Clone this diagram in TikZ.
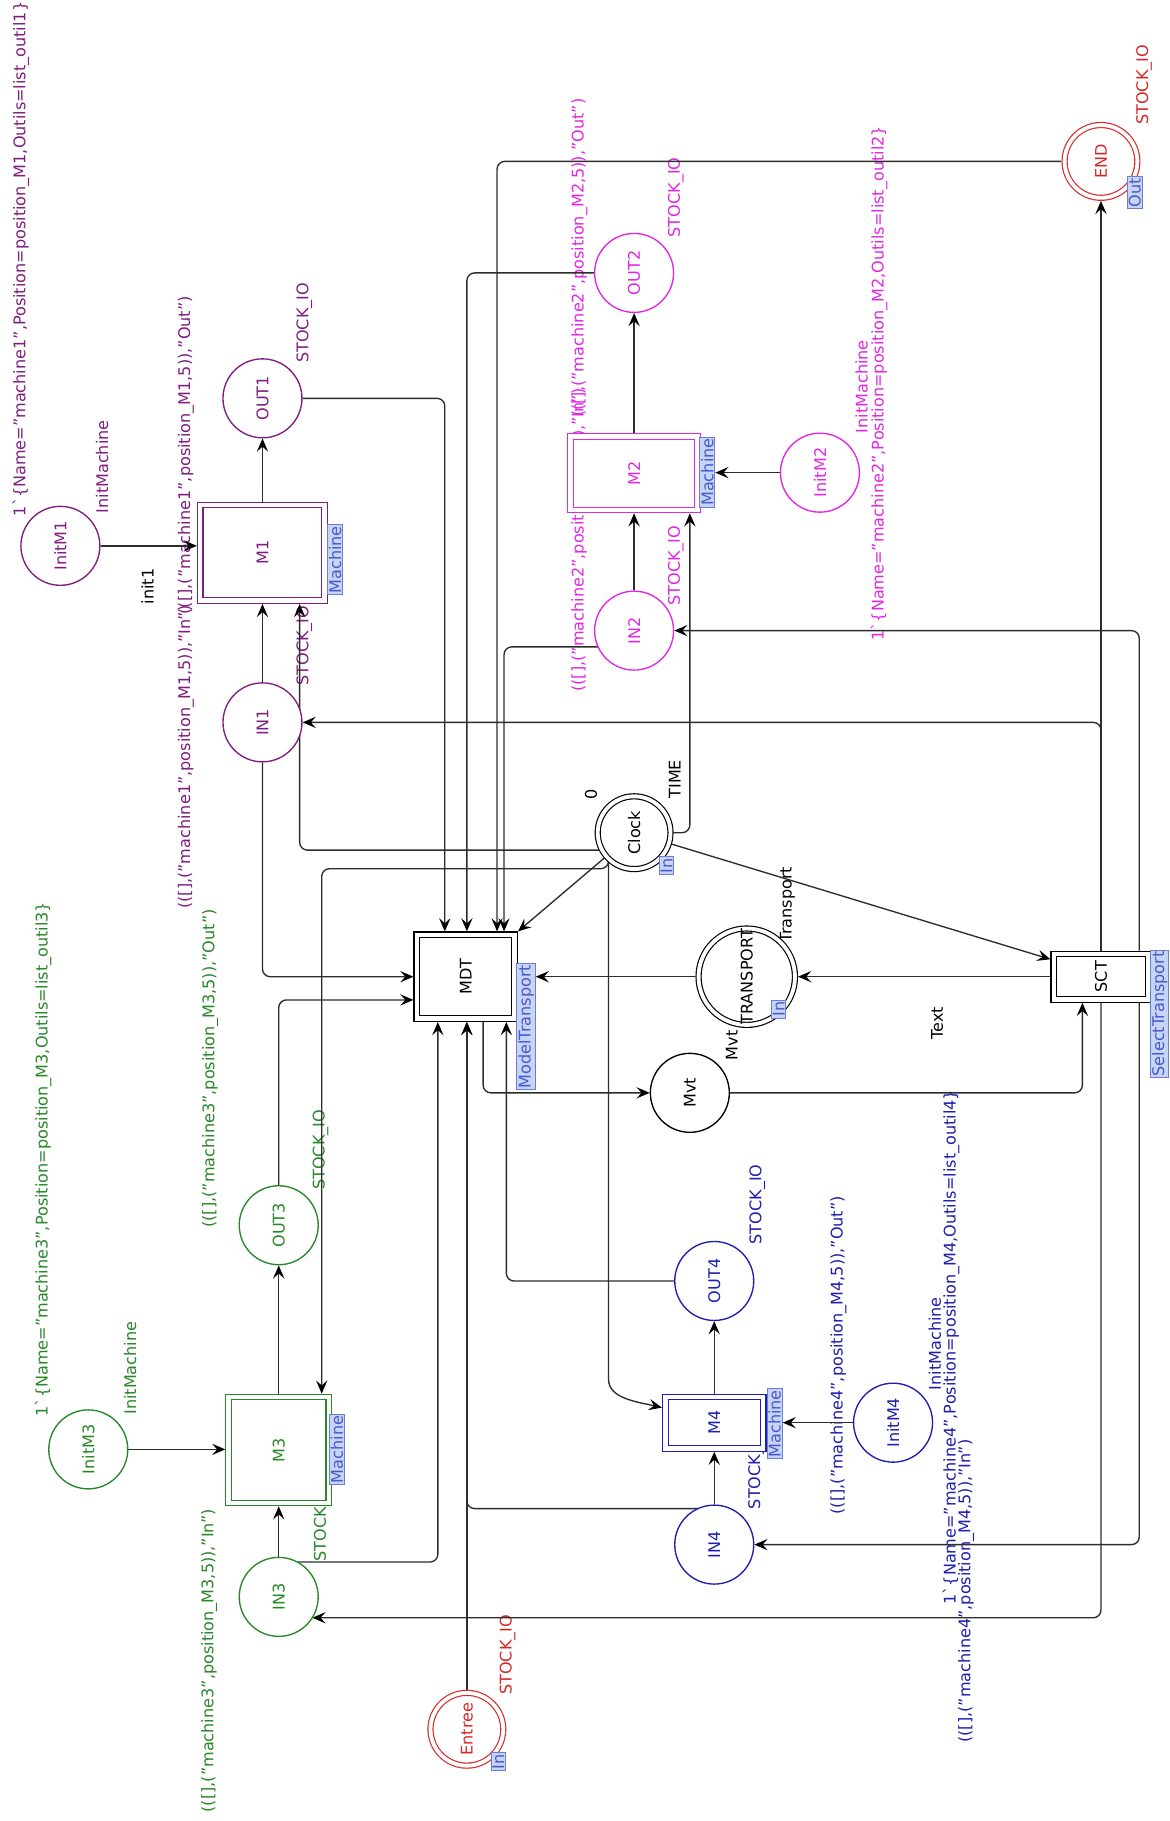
\documentclass[tikz,border=0pt]{standalone}
\usepackage{fontspec}
\setmainfont{DejaVu Sans}
\usetikzlibrary{arrows.meta,calc}
\definecolor{cpurple}{RGB}{128,30,128}
\definecolor{cmag}{RGB}{225,40,225}
\definecolor{cgreen}{RGB}{40,135,40}
\definecolor{cblue}{RGB}{30,30,175}
\definecolor{cred}{RGB}{215,40,40}
\definecolor{tagfill}{RGB}{200,212,245}
\definecolor{tagdraw}{RGB}{105,125,215}
\definecolor{tagtext}{RGB}{70,90,205}
\definecolor{arccol}{RGB}{45,45,45}
\newcommand{\fsz}{\fontsize{8.3}{10}\selectfont}
\newcommand{\rtx}[1]{\rotatebox{90}{#1}}
\pgfdeclarelayer{back}
\pgfdeclarelayer{bg}
\pgfsetlayers{back,bg,main}
\tikzset{
  cpnlbl/.style={rotate=90, inner sep=0pt, font=\fsz},
  cpnplace/.style={circle, draw=#1, text=#1, line width=0.7pt, minimum size=40.8pt, inner sep=0pt, fill=white, font=\fsz},
  cpndplace/.style={circle, draw=#1, text=#1, line width=0.6pt, double=white, double distance=2pt, minimum size=37.6pt, inner sep=0pt, outer sep=1.6pt, fill=white, font=\fsz},
  cpntrans/.style={rectangle, draw=#1, text=#1, line width=0.6pt, double=white, double distance=2.3pt, outer sep=1.75pt, inner sep=0pt, fill=white, font=\fsz},
  cpntag/.style={rectangle, draw=tagdraw, fill=tagfill, text=tagtext, line width=0.5pt, inner sep=0.7pt, font=\fsz},
  cpnarc/.style={draw=arccol, line width=0.7pt, rounded corners=4pt, -{Stealth[length=6.8pt,width=5.8pt,inset=2.6pt,black]}},
}
\begin{document}
\begin{tikzpicture}[x=0.6pt,y=-0.6pt]
\begin{pgfonlayer}{back}
\fill[white] (0,0) rectangle (1007,1568);
\end{pgfonlayer}
\useasboundingbox (0,0) rectangle (1007,1568);

% ---------- nodes ----------
% M1 group (purple)
\node[cpnplace=cpurple] (InitM1) at (52,470) {\rtx{InitM1}};
\node[cpnplace=cpurple] (OUT1) at (226,343) {\rtx{OUT1}};
\node[cpnplace=cpurple] (IN1) at (226,622) {\rtx{IN1}};
\node[cpntrans=cpurple, minimum width=64.3pt, minimum height=49.3pt] (M1) at (226,476) {\rtx{M1}};
\node[cpntag] (M1tag) at (288.5,482) {\rtx{Machine}};
% M2 group (magenta)
\node[cpnplace=cmag] (OUT2) at (546,235) {\rtx{OUT2}};
\node[cpnplace=cmag] (IN2) at (546,543) {\rtx{IN2}};
\node[cpnplace=cmag] (InitM2) at (706,407) {\rtx{InitM2}};
\node[cpntrans=cmag, minimum width=65.5pt, minimum height=37.9pt] (M2) at (546,407.5) {\rtx{M2}};
\node[cpntag] (M2tag) at (609,406.5) {\rtx{Machine}};
% M3 group (green)
\node[cpnplace=cgreen] (OUT3) at (240,1055) {\rtx{OUT3}};
\node[cpnplace=cgreen] (IN3) at (240,1375) {\rtx{IN3}};
\node[cpnplace=cgreen] (InitM3) at (76,1248) {\rtx{InitM3}};
\node[cpntrans=cgreen, minimum width=51.7pt, minimum height=54.7pt] (M3) at (240,1248.5) {\rtx{M3}};
\node[cpntag] (M3tag) at (290,1248) {\rtx{Machine}};
% M4 group (blue)
\node[cpnplace=cblue] (OUT4) at (615,1103) {\rtx{OUT4}};
\node[cpnplace=cblue] (IN4) at (615,1330) {\rtx{IN4}};
\node[cpnplace=cblue] (InitM4) at (769,1225) {\rtx{InitM4}};
\node[cpntrans=cblue, minimum width=50.5pt, minimum height=26.5pt] (M4) at (615,1225) {\rtx{M4}};
\node[cpntag] (M4tag) at (667,1226) {\rtx{Machine}};
% red ports
\node[cpndplace=cred] (END) at (948,139) {\rtx{END}};
\node[cpntag] (ENDtag) at (977,166) {\rtx{Out}};
\node[cpndplace=cred] (Entree) at (402,1489) {\rtx{Entree}};
\node[cpntag] (Entreetag) at (429,1517) {\rtx{In}};
% black centre
\node[cpndplace=black] (Clock) at (546,717) {\rtx{Clock}};
\node[cpntag] (Clocktag) at (574,745.5) {\rtx{In}};
\node[cpntrans=black, minimum width=50.5pt, minimum height=43.3pt] (MDT) at (401,841) {\rtx{MDT}};
\node[cpntag] (MDTtag) at (453,884) {\rtx{ModelTransport}};
\node[cpndplace=black] (TRANSPORT) at (643,841) {\rtx{TRANSPORT}};
\node[cpntag] (TRtag) at (670.5,869) {\rtx{In}};
\node[cpnplace=black] (Mvt) at (594,941) {\rtx{Mvt}};
\node[cpntrans=black, minimum width=48.7pt, minimum height=23.5pt] (SCT) at (948,841) {\rtx{SCT}};
\node[cpntag] (SCTtag) at (998.5,873) {\rtx{SelectTransport}};

\begin{pgfonlayer}{bg}
% ---------- labels ----------
% purple
\node[cpnlbl,text=cpurple] at (18,223) {1\textasciigrave\{Name="machine1",Position=position\_M1,Outils=list\_outil1\}};
\node[cpnlbl,text=cpurple] at (88,402) {InitMachine};
\node[cpnlbl,text=black] at (127,505) {init1};
\node[cpnlbl,text=cpurple] at (160,392) {(([],("machine1",position\_M1,5)),"Out")};
\node[cpnlbl,text=cpurple] at (262,278) {STOCK\_IO};
\node[cpnlbl,text=cpurple] at (262,556) {STOCK\_IO};
\node[cpnlbl,text=cpurple] at (160,652) {(([],("machine1",position\_M1,5)),"In")};
% magenta
\node[cpnlbl,text=cmag] at (499,222) {(([],("machine2",position\_M2,5)),"Out")};
\node[cpnlbl,text=cmag] at (582,170) {STOCK\_IO};
\node[cpnlbl,text=cmag] at (499,465) {(([],("machine2",position\_M2,5)),"In")};
\node[cpnlbl,text=cmag] at (582,487) {STOCK\_IO};
\node[cpnlbl,text=cmag] at (742,333) {InitMachine};
\node[cpnlbl,text=cmag] at (757,330) {1\textasciigrave\{Name="machine2",Position=position\_M2,Outils=list\_outil2\}};
% green
\node[cpnlbl,text=cgreen] at (37,998) {1\textasciigrave\{Name="machine3",Position=position\_M3,Outils=list\_outil3\}};
\node[cpnlbl,text=cgreen] at (112,1178) {InitMachine};
\node[cpnlbl,text=cgreen] at (181,920) {(([],("machine3",position\_M3,5)),"Out")};
\node[cpnlbl,text=cgreen] at (276,990) {STOCK\_IO};
\node[cpnlbl,text=cgreen] at (180,1430) {(([],("machine3",position\_M3,5)),"In")};
\node[cpnlbl,text=cgreen] at (277,1310) {STOCK\_IO};
% blue
\node[cpnlbl,text=cblue] at (722,1167) {(([],("machine4",position\_M4,5)),"Out")};
\node[cpnlbl,text=cblue] at (652,1037) {STOCK\_IO};
\node[cpnlbl,text=cblue] at (651,1265) {STOCK\_IO};
\node[cpnlbl,text=cblue] at (805,1157) {InitMachine};
\node[cpnlbl,text=cblue] at (819,1160) {1\textasciigrave\{Name="machine4",Position=position\_M4,Outils=list\_outil4\}};
\node[cpnlbl,text=cblue] at (832,1370) {(([],("machine4",position\_M4,5)),"In")};
% red
\node[cpnlbl,text=cred] at (985,73) {STOCK\_IO};
\node[cpnlbl,text=cred] at (437,1425) {STOCK\_IO};
% black
\node[cpnlbl] at (509,684) {0};
\node[cpnlbl] at (581,671) {TIME};
\node[cpnlbl] at (678,779) {Transport};
\node[cpnlbl] at (630,900) {Mvt};
\node[cpnlbl] at (807,881) {Text};

% ---------- arcs ----------
% M1
\draw[cpnarc] (InitM1.east) -- (InitM1.east -| M1.west);
\draw[cpnarc] (M1.north) -- (OUT1.south);
\draw[cpnarc] (IN1.north) -- (M1.south);
\draw[cpnarc] ($(Clock)+(-30,15)$) -| ($(M1.south)+(32,0)$);
\draw[cpnarc] (OUT1.east) -| ($(MDT.north)+(-18,0)$);
\draw[cpnarc] (IN1.south) |- (MDT.west);
% M2
\draw[cpnarc] (M2.north) -- (OUT2.south);
\draw[cpnarc] (IN2.north) -- (M2.south);
\draw[cpnarc] (InitM2.west) -- (InitM2.west -| M2tag.east);
\draw[cpnarc] (Clock.east) -| ($(M2.south)+(48,0)$);
\draw[cpnarc] (OUT2.west) -| ($(MDT.north)+(1,0)$);
\draw[cpnarc] (END.west) -| ($(MDT.north)+(27,0)$);
\draw[cpnarc] ($(IN2)+(-31,14)$) -| ($(MDT.north)+(33,0)$);
% M3
\draw[cpnarc] (InitM3.east) -- (InitM3.east -| M3.west);
\draw[cpnarc] (M3.north) -- (OUT3.south);
\draw[cpnarc] (IN3.north) -- (M3.south);
\draw[cpnarc] ($(Clock)+(-22,26)$) -- ($(Clock)+(-22,31)$) -| ($(M3.north)+(37,0)$);
\draw[cpnarc] (OUT3.north) |- ($(MDT.west)+(0,20)$);
\draw[cpnarc] ($(IN3)+(16,-30)$) -| ($(MDT.south)+(-24,0)$);
% M4
\draw[cpnarc] (M4.north) -- (OUT4.south);
\draw[cpnarc] (IN4.north) -- (M4.south);
\draw[cpnarc] (InitM4.west) -- (InitM4.west -| M4tag.east);
\draw[cpnarc] ($(Clock)+(-22,26)$) -- ($(Clock)+(-22,464)$) .. controls ($(Clock)+(-22,487)$) and ($(M4.west)+(-22,-18)$) .. ($(M4.west)+(0,-13)$);
\draw[cpnarc] ($(IN4)+(-14,-31)$) -| ($(MDT.south)+(1,0)$);
\draw[cpnarc] (OUT4.west) -| ($(MDT.south)+(35,0)$);
\draw[cpnarc] (Entree.north) -- (Entree.north |- MDT.south);
% SCT and centre
\draw[cpnarc] (SCT.north) -- (END.south);
\draw[cpnarc] (SCT.north) |- (IN1.east);
\draw[cpnarc] ($(SCT.north)+(33,0)$) |- (IN2.east);
\draw[cpnarc] (SCT.south) |- ($(IN3)+(29,18)$);
\draw[cpnarc] ($(SCT.south)+(33,0)$) |- (IN4.east);
\draw[cpnarc] (SCT.west) -- (TRANSPORT.east);
\draw[cpnarc] (TRANSPORT.west) -- (TRANSPORT.west -| MDTtag.east);
\draw[cpnarc] ($(MDT.south)+(15,0)$) |- (Mvt.west);
\draw[cpnarc] (Mvt.east) -| ($(SCT.south)+(-16,0)$);
\draw[cpnarc] (Clock) -- (MDT.north east);
\draw[cpnarc] (Clock) -- ($(SCT.west)+(0,-15)$);
\end{pgfonlayer}
\end{tikzpicture}
\end{document}
